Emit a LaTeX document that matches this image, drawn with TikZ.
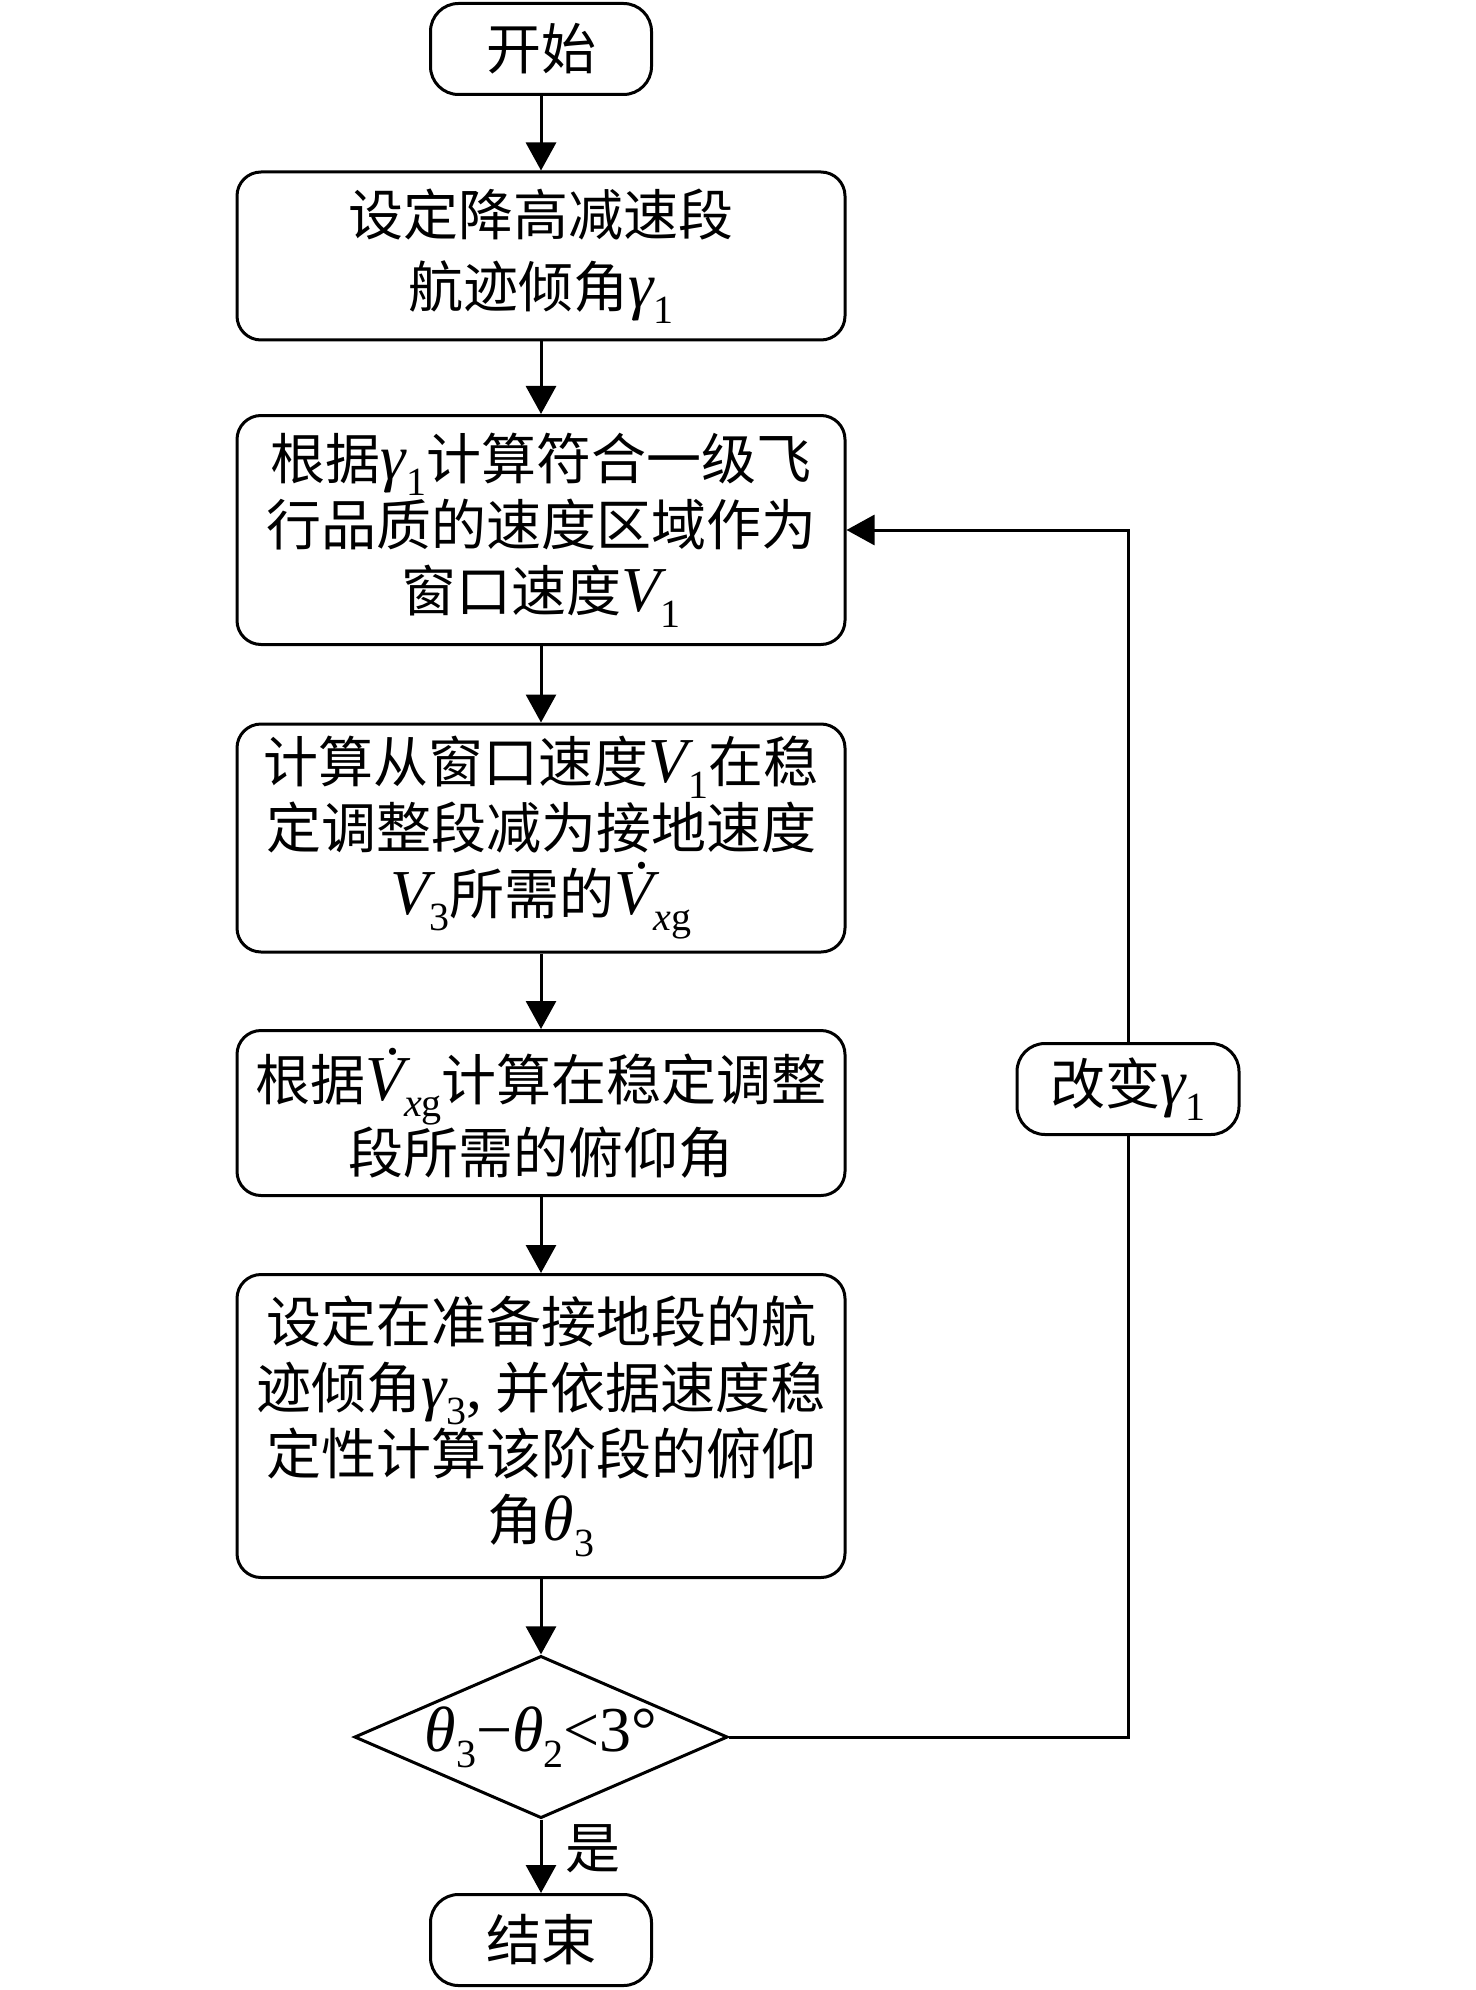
\documentclass[tikz,border=0pt]{standalone}
\usepackage{fontspec}
\setmainfont{Noto Sans CJK SC}
\newfontfamily\tnr{Liberation Serif}
\usetikzlibrary{shapes.geometric,arrows.meta}
\newcommand\mv[1]{{\tnr\itshape\fontsize{32}{32}\selectfont #1}}
\newcommand\msub[1]{\raisebox{-8pt}{\tnr\fontsize{20}{20}\selectfont #1}}
\newcommand\vdt{\makebox[0pt][l]{\hspace{10pt}\raisebox{23pt}{\tnr\fontsize{30}{30}\selectfont .}}\mv{V}}
\begin{document}
\begin{tikzpicture}[x=0.5pt,y=-0.5pt,
  every node/.style={font=\fontsize{27.5}{33}\selectfont},
  box/.style={draw, line width=1.5pt, rounded corners=12pt, align=center, inner sep=0pt,
              minimum width=304pt},
  term/.style={draw, line width=1.5pt, rounded corners=14pt, align=center, inner sep=0pt,
              minimum width=110.5pt, minimum height=45.5pt},
  dec/.style={draw, line width=1.5pt, diamond, shape aspect=2.3, inner sep=0pt,
              minimum width=185pt, minimum height=80.5pt},
  link/.style={line width=1.5pt},
  arr/.style={line width=1.5pt, -{Triangle[length=14pt,width=15pt]}}]
\useasboundingbox (0,0) rectangle (1476,1990);
\node[term] (start) at (541,49) {开始};
\node[box, minimum height=84pt] (b2) at (541,256) {设定降高减速段\\[3pt]航迹倾角\mv{γ}\msub{1}};
\node[box, minimum height=114.5pt] (b3) at (541,530) {根据\mv{γ}\msub{1}计算符合一级飞\\行品质的速度区域作为\\窗口速度\mv{V}\msub{1}};
\node[box, minimum height=114pt] (b4) at (541,838) {计算从窗口速度\mv{V}\msub{1}在稳\\定调整段减为接地速度\\\mv{V}\msub{3}所需的\vdt\msub{\itshape x\upshape g}};
\node[box, minimum height=82.5pt] (b5) at (541,1113) {根据\vdt\msub{\itshape x\upshape g}计算在稳定调整\\段所需的俯仰角};
\node[box, minimum height=151.5pt] (b6) at (541,1426) {设定在准备接地段的航\\迹倾角\mv{γ}\msub{3}\mv{\upshape ,} 并依据速度稳\\定性计算该阶段的俯仰\\角\mv{θ}\msub{3}};
\node[dec] (d) at (541,1737) {\mv{θ}\msub{3}\mv{\upshape −}\mv{θ}\msub{2}\mv{\upshape <3°}};
\node[term] (end) at (541,1940) {结束};
\node[term, minimum width=111pt] (chg) at (1128,1089) {改变\mv{γ}\msub{1}};
\node (yes) at (593,1849) {是};
\draw[arr] (start) -- (b2);
\draw[arr] (b2) -- (b3);
\draw[arr] (b3) -- (b4);
\draw[arr] (b4) -- (b5);
\draw[arr] (b5) -- (b6);
\draw[arr] (b6) -- (d);
\draw[arr] (d) -- (end);
\draw[link] (d.east) -| (chg.south);
\draw[arr] (chg.north) |- (b3.east);
\end{tikzpicture}
\end{document}
